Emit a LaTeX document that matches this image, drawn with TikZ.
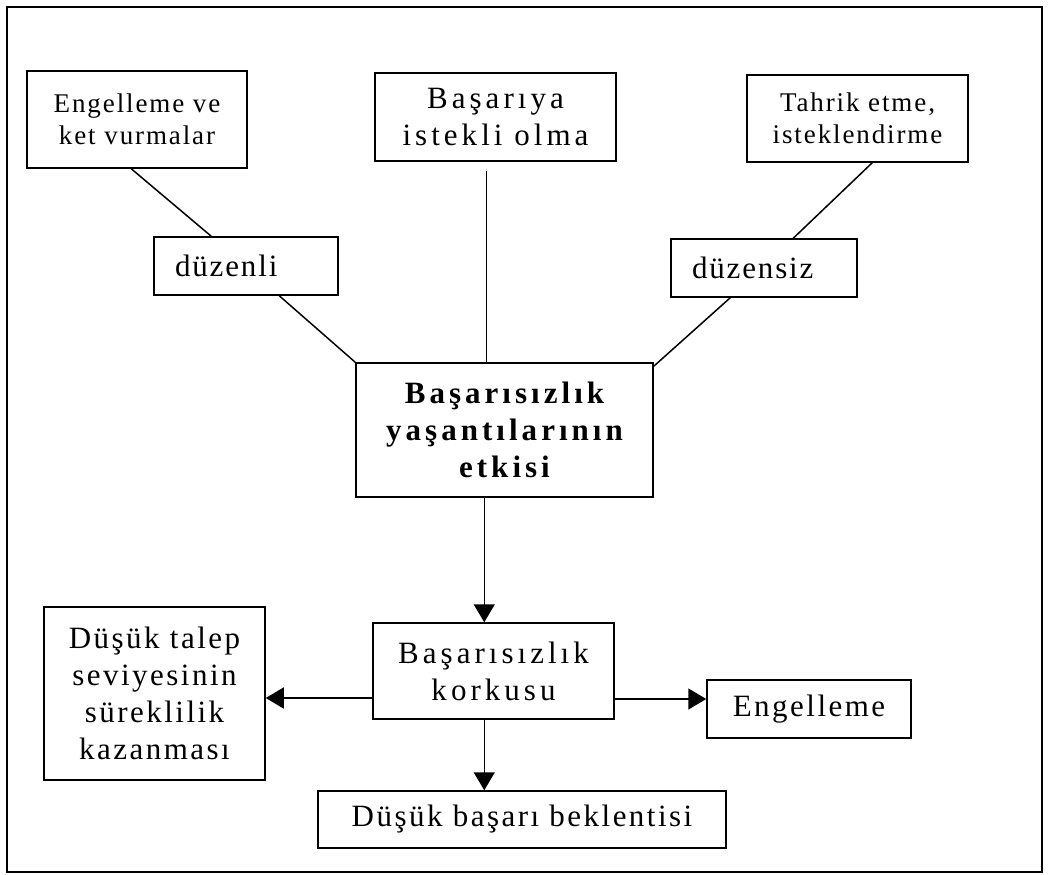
\documentclass[tikz,border=0pt]{standalone}
\usepackage{fontspec}
\setmainfont{Liberation Serif}
\newfontfamily\widefont[LetterSpace=13]{Liberation Serif}
\newfontfamily\midfont[LetterSpace=8]{Liberation Serif}
\newfontfamily\semifont[LetterSpace=7]{Liberation Serif}
\newfontfamily\narfont[LetterSpace=6]{Liberation Serif}
\usetikzlibrary{arrows.meta,calc}
\begin{document}
\begin{tikzpicture}[x=1pt,y=-1pt,
  box/.style={draw, line width=1.5pt, inner sep=0pt, align=center, font=\widefont\fontsize{31}{37}\selectfont},
  midbox/.style={box, font=\midfont\fontsize{31}{37}\selectfont},
  smallbox/.style={box, font=\semifont\fontsize{27}{32}\selectfont},
  leftbox/.style={draw, line width=1.5pt, inner xsep=21pt, inner ysep=0pt, align=left, font=\narfont\fontsize{31}{37}\selectfont},
  link/.style={line width=1.5pt},
  arr/.style={line width=1.5pt, -{Triangle[length=18pt,width=21pt]}}]
\useasboundingbox (0,0) rectangle (1063,875);
\draw[line width=1.5pt] (7,7) rectangle (1042,872);

\node[smallbox, minimum width=220pt, minimum height=97pt] (b1) at (137,119.5) {Engelleme ve\\ket vurmalar};
\node[box, minimum width=241pt, minimum height=88pt] (b2) at (495.5,117) {Başarıya\\istekli olma};
\node[smallbox, minimum width=221pt, minimum height=87pt] (b3) at (857.5,118.5) {Tahrik etme,\\isteklendirme};
\node[leftbox, text width=142pt, minimum height=58pt] (duz) at (246,266) {düzenli};
\node[leftbox, text width=144pt, minimum height=58pt] (dz) at (764,268) {düzensiz};
\node[box, minimum width=297pt, minimum height=134pt] (c) at (504.5,430) {\bfseries Başarısızlık\\\bfseries yaşantılarının\\\bfseries etkisi};
\node[box, minimum width=241pt, minimum height=96pt] (k) at (493.5,671) {Başarısızlık\\korkusu};
\node[midbox, minimum width=221pt, minimum height=173pt] (l) at (154.5,693.5) {Düşük talep\\seviyesinin\\süreklilik\\kazanması};
\node[midbox, minimum width=204pt, minimum height=58pt] (e) at (809,709) {Engelleme};
\node[midbox, minimum width=408pt, minimum height=57pt] (d) at (522,819.5) {Düşük başarı beklentisi};

\draw[link] ([xshift=105pt]b1.south west) -- ([xshift=58pt]duz.north west);
\draw[link] ([xshift=126pt]duz.south west) -- (c.north west);
\draw[link] ([xshift=112pt,yshift=-9pt]b2.south west) -- ([xshift=131pt]c.north west);
\draw[link] ([xshift=126pt]b3.south west) -- ([xshift=123pt]dz.north west);
\draw[link] ([xshift=60pt]dz.south west) -- ([yshift=-4pt]c.north east);

\draw[arr] ([xshift=129pt]c.south west) -- ([xshift=112pt]k.north west);
\draw[arr] ([yshift=-27pt]k.west) -- ([yshift=-27pt]k.west -| l.east);
\draw[arr] ([yshift=-28pt]k.east) -- ([yshift=-28pt]k.east -| e.west);
\draw[arr] ([xshift=112pt]k.south west) -- ([xshift=112pt]k.south west |- d.north);
\end{tikzpicture}
\end{document}
